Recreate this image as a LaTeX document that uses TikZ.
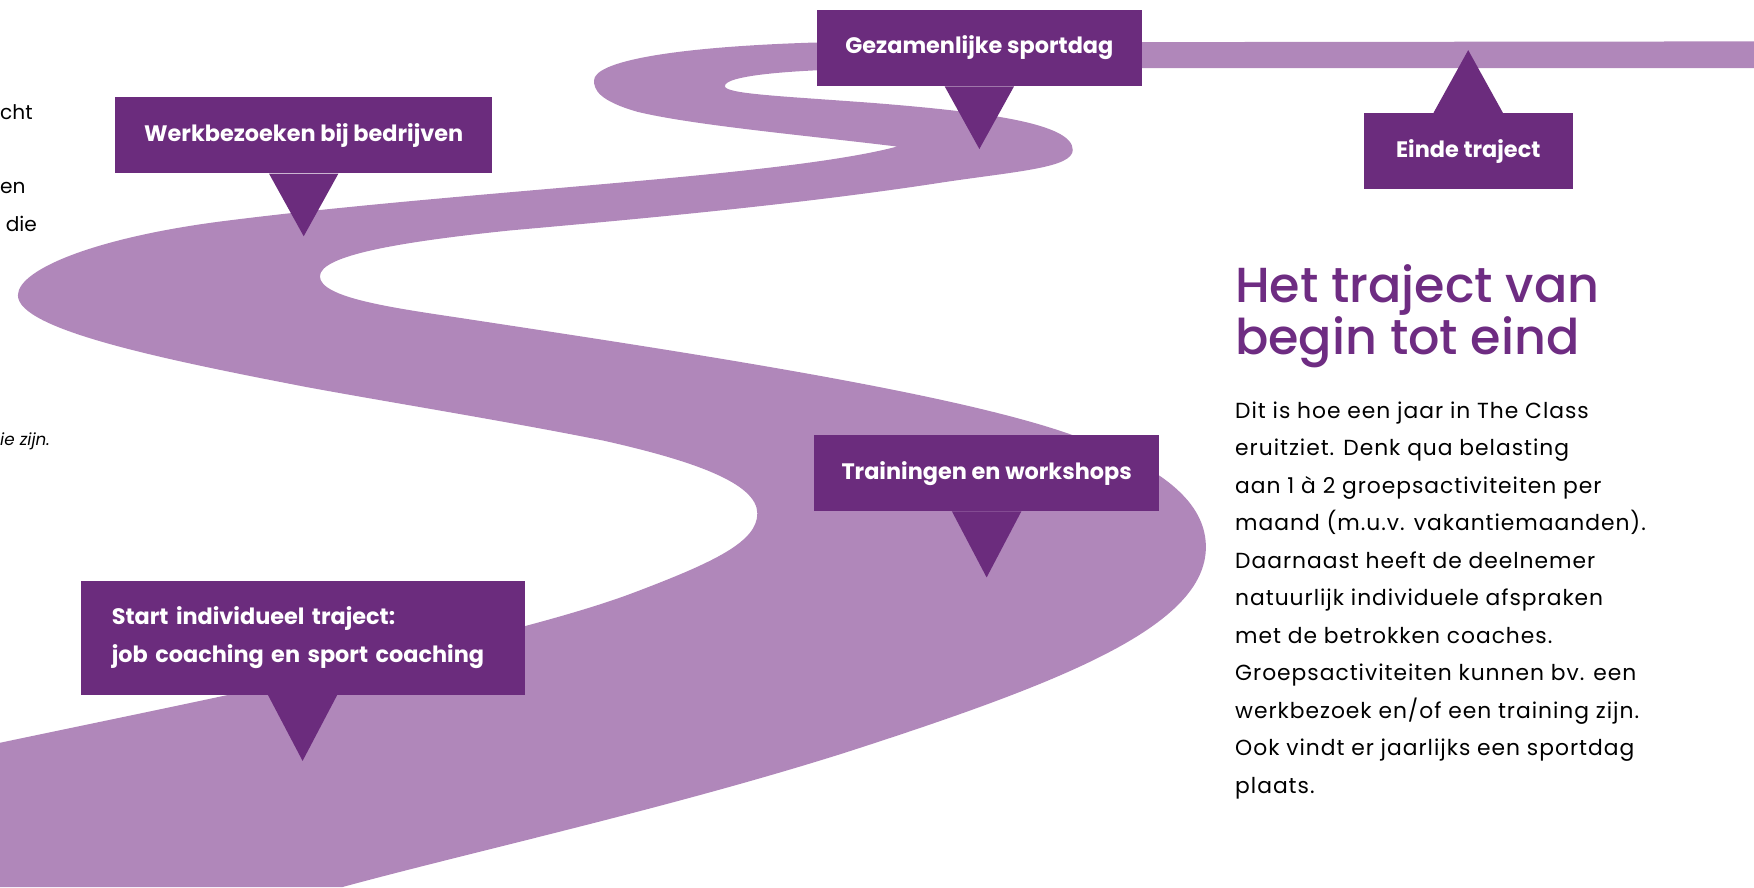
\documentclass[tikz,border=0pt]{standalone}
\usepackage{fontspec}
\setmainfont{Poppins}
\newfontfamily\headfont{Poppins Medium}
\definecolor{roadpurple}{HTML}{B087BA}
\definecolor{boxpurple}{HTML}{6B2C7D}
\definecolor{titlepurple}{HTML}{6E2C82}
\begin{document}
\begin{tikzpicture}[x=1pt, y=-1pt,
      stop/.style={fill=boxpurple, text=white, inner sep=0pt, minimum height=68pt,
        font=\bfseries\fontsize{20}{34}\selectfont},
      pin/.style={fill=boxpurple},
      side/.style={anchor=base west, inner sep=0pt, font=\fontsize{18}{20}\selectfont}]
    \useasboundingbox (0,0) rectangle (1568,793);
    % the road
    \fill[roadpurple] (0,664) .. controls (200,622) and (460,570) .. (566,530)
      .. controls (640,502) and (677,484) .. (677,459)
      .. controls (677,432) and (620,412) .. (540,394)
      .. controls (450,376) and (350,360) .. (274,346)
      .. controls (150,322) and (16,295) .. (16,264)
      .. controls (16,240) and (90,211) .. (205,197)
      .. controls (420,170) and (700,158) .. (802,131)
      .. controls (720,121) and (620,112) .. (570,100)
      .. controls (535,90) and (531,80) .. (531,72)
      .. controls (531,55) and (600,42) .. (729,38)
      -- (1568,37) -- (1568,61) -- (800,61)
      .. controls (700,62) and (648,68) .. (648,77)
      .. controls (648,84) and (700,86) .. (780,92)
      .. controls (880,100) and (959,110) .. (959,134)
      .. controls (959,150) and (910,153) .. (843,163)
      .. controls (720,182) and (580,195) .. (456,206)
      .. controls (360,216) and (286,228) .. (286,247)
      .. controls (286,266) and (350,275) .. (410,284)
      .. controls (600,313) and (850,350) .. (959,389)
      .. controls (1050,420) and (1078,455) .. (1078,489)
      .. controls (1078,560) and (950,610) .. (755,673)
      .. controls (600,722) and (420,762) .. (306,793)
      -- (0,793) -- cycle;
    % stops along the road
    \node[stop, minimum width=337pt] (werk) at (271.5,121) {Werkbezoeken bij bedrijven};
    \node[stop, minimum width=291pt] (gez) at (875.5,43) {Gezamenlijke sportdag};
    \node[stop, minimum width=187pt] (einde) at (1312.5,135) {Einde traject};
    \node[stop, minimum width=308pt] (train) at (882,423) {Trainingen en workshops};
    \node[stop, minimum height=102pt, inner xsep=28pt, text width=341pt, align=left] (start) at (270.5,570)
      {Start individueel traject:\\job coaching en sport coaching};
    \foreach \b/\h in {werk/56pt, gez/56pt, train/59pt, start/59pt}
      \fill[pin] ([xshift=-31pt]\b.south) -- ([xshift=31pt]\b.south) -- ([yshift=-\h]\b.south) -- cycle;
    \fill[pin] ([xshift=-31pt]einde.north) -- ([xshift=31pt]einde.north) -- ([yshift=56pt]einde.north) -- cycle;
    % text on the right
    \node[anchor=north west, inner sep=0pt, align=left, text=titlepurple,
      font=\headfont\fontsize{44}{47}\selectfont] (title) at (1104,236) {Het traject van\\begin tot eind};
    \node[anchor=north west, inner sep=0pt, align=left,
      font=\addfontfeature{LetterSpace=4.5}\fontsize{19.5}{33.5}\selectfont] (body) at (1104,359)
      {Dit is hoe een jaar in The Class\\
       eruitziet. Denk qua belasting\\
       aan 1 à 2 groepsactiviteiten per\\
       maand (m.u.v. vakantiemaanden).\\
       Daarnaast heeft de deelnemer\\
       natuurlijk individuele afspraken\\
       met de betrokken coaches.\\
       Groepsactiviteiten kunnen bv. een\\
       werkbezoek en/of een training zijn.\\
       Ook vindt er jaarlijks een sportdag\\
       plaats.};
    % cut-off text on the left
    \node[side] (cut1) at (0,107) {cht};
    \node[side] (cut2) at (0,173) {en};
    \node[side] (cut3) at (5,207) {die};
    \node[side, font=\itshape\fontsize{15}{17}\selectfont] (cut4) at (0,398) {ie zijn.};
\end{tikzpicture}
\end{document}
